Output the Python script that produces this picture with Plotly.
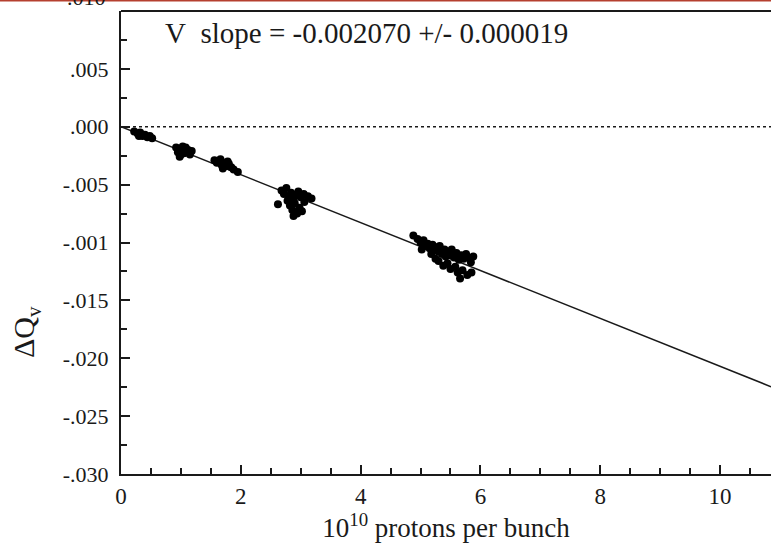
import plotly.graph_objects as go

# ---- data ----
x_pts = [0.22, 0.28, 0.32, 0.36, 0.40, 0.44, 0.48, 0.52, 0.30,
         0.92, 0.95, 0.97, 1.00, 1.02, 1.05, 1.08, 1.10, 1.12, 1.15, 0.98, 1.18, 1.03,
         1.56, 1.60, 1.64, 1.68, 1.72, 1.76, 1.80, 1.70, 1.84, 1.88, 1.95, 1.78, 1.66,
         2.68, 2.72, 2.76, 2.80, 2.84, 2.88, 2.92, 2.96, 3.00, 3.05, 3.12, 3.18, 2.62,
         2.82, 2.86, 2.90, 2.94, 2.98, 3.02, 2.88, 2.78, 3.06,
         4.88, 4.95, 5.00, 5.05, 5.08, 5.12, 5.15, 5.20, 5.22, 5.26, 5.30, 5.32, 5.36,
         5.40, 5.42, 5.46, 5.50, 5.52, 5.56, 5.60, 5.64, 5.68, 5.72, 5.76, 5.80, 5.84,
         5.88, 5.30, 5.38, 5.45, 5.50, 5.58, 5.62, 5.70, 5.78, 5.85, 5.66, 5.02, 5.18, 5.25]
y_pts = [-0.0004, -0.0006, -0.0005, -0.0008, -0.0007, -0.0009, -0.0008, -0.0010, -0.0008,
         -0.0018, -0.0022, -0.0019, -0.0024, -0.0020, -0.0023, -0.0018, -0.0022, -0.0020, -0.0024, -0.0026, -0.0021, -0.0017,
         -0.0029, -0.0031, -0.0030, -0.0033, -0.0031, -0.0034, -0.0032, -0.0036, -0.0035, -0.0037, -0.0039, -0.0030, -0.0028,
         -0.0055, -0.0058, -0.0053, -0.0060, -0.0057, -0.0062, -0.0059, -0.0056, -0.0061, -0.0058, -0.0060, -0.0062, -0.0067,
         -0.0068, -0.0072, -0.0066, -0.0075, -0.0070, -0.0073, -0.0077, -0.0064, -0.0065,
         -0.0094, -0.0097, -0.0100, -0.0098, -0.0103, -0.0101, -0.0105, -0.0102, -0.0107, -0.0104, -0.0108, -0.0103, -0.0110,
         -0.0106, -0.0112, -0.0108, -0.0111, -0.0106, -0.0113, -0.0109, -0.0115, -0.0111, -0.0114, -0.0110, -0.0113, -0.0117,
         -0.0112, -0.0116, -0.0120, -0.0118, -0.0123, -0.0121, -0.0126, -0.0124, -0.0128, -0.0126, -0.0131, -0.0106, -0.0110, -0.0114]

slope = -0.002070
fit_x = [0.0, 10.85]
fit_y = [slope * v for v in fit_x]

x_range = [0, 10.85]
y_range = [-0.030, 0.010]
x_tickvals = [0, 2, 4, 6, 8, 10]
x_ticktext = ["0", "2", "4", "6", "8", "10"]
y_tickvals = [0.005, 0.000, -0.005, -0.010, -0.015, -0.020, -0.025, -0.030]
y_ticktext = [".005", ".000", "-.005", "-.001", "-.015", "-.020", "-.025", "-.030"]

FONT = "Liberation Serif, Times New Roman, serif"
INK = "#1a1a1a"

fig = go.Figure()
fig.add_trace(go.Scatter(x=x_range, y=[0, 0], mode="lines",
                         line=dict(color=INK, width=1.5, dash="3px,3px"),
                         hoverinfo="skip", showlegend=False))
fig.add_trace(go.Scatter(x=fit_x, y=fit_y, mode="lines",
                         line=dict(color=INK, width=1.5), showlegend=False))
fig.add_trace(go.Scatter(x=x_pts, y=y_pts, mode="markers",
                         marker=dict(color="#000", size=8, symbol="circle"),
                         showlegend=False))

axis_common = dict(showline=True, linecolor=INK, linewidth=2, showgrid=False,
                   zeroline=False, ticks="inside", tickcolor=INK, tickwidth=1.5,
                   ticklen=9, mirror=False)

fig.update_xaxes(range=x_range, tickvals=x_tickvals, ticktext=x_ticktext,
                 minor=dict(dtick=0.5, ticks="inside", ticklen=6, tickcolor=INK, tickwidth=1.5),
                 tickfont=dict(family=FONT, size=23, color=INK),
                 title=dict(text="10<sup>10</sup> protons per bunch",
                            font=dict(family=FONT, size=27, color=INK), standoff=8),
                 **axis_common)
fig.update_yaxes(range=y_range, tickvals=y_tickvals, ticktext=y_ticktext,
                 minor=dict(dtick=0.0025, ticks="inside", ticklen=6, tickcolor=INK, tickwidth=1.5),
                 tickfont=dict(family=FONT, size=22, color=INK), ticklabelstandoff=6,
                 **axis_common)

# top frame line
fig.add_shape(type="line", xref="paper", yref="paper", x0=0, x1=1.0,
              y0=1.0, y1=1.0, line=dict(color=INK, width=2))

fig.add_annotation(text="V&nbsp;&nbsp;slope = -0.002070 +/- 0.000019",
                   xref="paper", yref="paper", x=0.065, y=0.9525,
                   xanchor="left", yanchor="middle", showarrow=False,
                   font=dict(family=FONT, size=29, color=INK))
fig.add_annotation(text="ΔQ<sub>v</sub>", textangle=-90,
                   xref="paper", yref="paper", x=-0.145, y=0.306,
                   xanchor="center", yanchor="middle", showarrow=False,
                   font=dict(family=FONT, size=30, color=INK))
fig.add_annotation(text=".010", xref="paper", yref="paper", x=-0.02, y=1.03,
                   xanchor="right", yanchor="middle", showarrow=False,
                   font=dict(family=FONT, size=22, color=INK))
fig.add_shape(type="line", xref="paper", yref="paper", x0=-0.2, x1=1.0,
              y0=1.0227, y1=1.0227, line=dict(color="#b5402f", width=2))

fig.update_layout(width=771, height=547,
                  margin=dict(l=121, r=0, t=11, b=73),
                  paper_bgcolor="white", plot_bgcolor="white")

fig.write_html("out.html")
